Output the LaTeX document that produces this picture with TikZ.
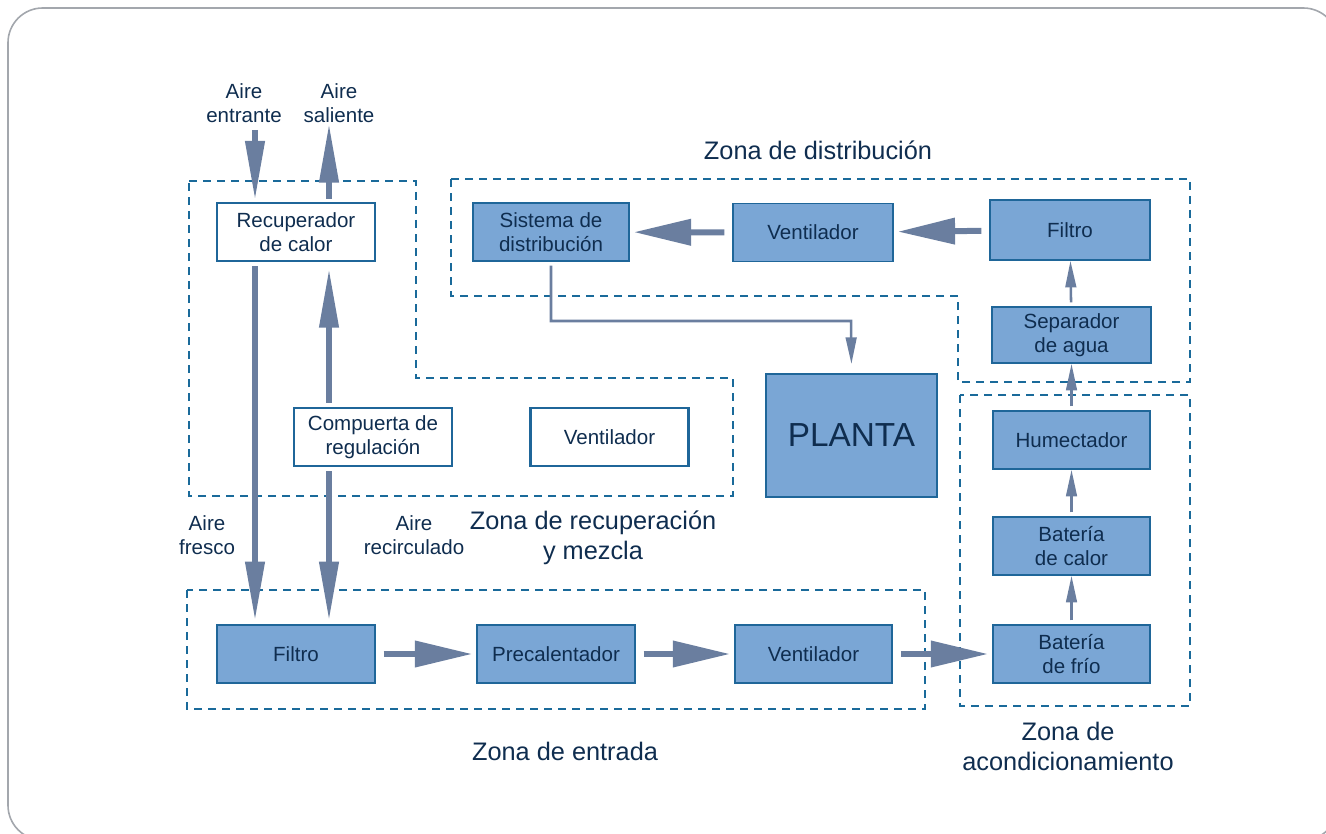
\documentclass[tikz,border=0pt]{standalone}
\usepackage{fontspec}
\setmainfont{Liberation Sans}
\usetikzlibrary{arrows.meta,positioning}
\definecolor{boxfill}{HTML}{7AA6D5}
\definecolor{boxline}{HTML}{1F6699}
\definecolor{zoneline}{HTML}{1A6A9A}
\definecolor{flow}{HTML}{6A7E9F}
\definecolor{ink}{HTML}{0F2D4F}
\definecolor{frame}{HTML}{A3A7AD}

\tikzset{
  lbl/.style={text=ink, align=center, font=\fontsize{15.4}{18.2}\selectfont},
  zonelbl/.style={text=ink, align=center, font=\fontsize{19}{22.5}\selectfont},
  box/.style={lbl, draw=boxline, line width=1.1pt, fill=boxfill, inner sep=0pt,
    minimum width=118.5pt, minimum height=43.5pt},
  wbox/.style={lbl, draw=boxline, line width=2.1pt, fill=white, inner sep=0pt,
    minimum width=118.5pt, minimum height=43.5pt},
  zone/.style={draw=zoneline, line width=1.9pt, dash pattern=on 6pt off 4.5pt},
  hbig/.style={draw=flow, line width=4.5pt, -{Triangle[length=43pt, width=19pt]},
    shorten <=6pt, shorten >=3pt},
  vbig/.style={draw=flow, line width=4pt, -{Triangle[length=44pt, width=14pt]}},
  thin/.style={draw=flow, line width=1.9pt, -{Triangle[length=20pt, width=8pt]}}
}

\begin{document}
\begin{tikzpicture}[x=0.75pt, y=-0.75pt]
    \useasboundingbox (0,0) rectangle (1326,834);
    % outer frame
    \draw[frame, line width=1.2pt, rounded corners=26pt] (8,8) rectangle (1338,840);

    % Zones
    \draw[zone] (189,181) -- (416,181) -- (416,378) -- (733,378) -- (733,496) -- (189,496) -- cycle;
    \draw[zone] (451,179) -- (1190,179) -- (1190,382) -- (958,382) -- (958,296) -- (451,296) -- cycle;
    \draw[zone] (960,395) rectangle (1190,706);
    \draw[zone] (187,590) rectangle (925,709);

    % Recuperation and mixing
    \node[wbox] (rec) at (296,232) {Recuperador\\de calor};
    \node[wbox] (comp) at (373,437) {Compuerta de\\regulación};
    \node[wbox, minimum width=119pt] (ventM) at (609.5,437) {Ventilador};

    % Distribution
    \node[box, minimum width=117pt] (sis) at (551,232) {Sistema de\\distribución};
    \node[box, minimum width=120pt] (ventD) at (813,232.5) {Ventilador};
    \node[box, minimum width=120pt, minimum height=45pt] (filD) at (1070,230) {Filtro};
    \node[box, minimum width=119pt, minimum height=42pt] (sep) at (1071.5,335) {Separador\\de agua};
    \node[box, minimum width=128pt, minimum height=92pt, font=\fontsize{25}{30}\selectfont] (planta) at (851.5,435.5) {PLANTA};

    % Conditioning
    \node[box, minimum width=118pt] (hum) at (1071.5,440) {Humectador};
    \node[box, minimum width=118pt] (batc) at (1071.5,546) {Batería\\de calor};
    \node[box, minimum width=118pt] (batf) at (1071.5,654) {Batería\\de frío};

    % Entrance
    \node[box] (filE) at (296,654) {Filtro};
    \node[box] (pre) at (556,654) {Precalentador};
    \node[box, minimum width=118pt] (ventE) at (813.5,654) {Ventilador};

    % Labels
    \node[lbl] (lEnt) at (244,103) {Aire\\entrante};
    \node[lbl] (lSal) at (339,103) {Aire\\saliente};
    \node[lbl] (lFre) at (207,535) {Aire\\fresco};
    \node[lbl] (lRec) at (414,535) {Aire\\recirculado};
    \node[zonelbl] (zRec) at (593,538) {Zona de recuperación\\y mezcla};
    \node[zonelbl] (zDis) at (818,150) {Zona de distribución};
    \node[zonelbl] (zEnt) at (565,751) {Zona de entrada};
    \node[zonelbl] (zAco) at (1068,746) {Zona de\\acondicionamiento};

    % Air in / out
    \coordinate (ae) at (255,130);
    \coordinate (as) at (329,124);
    \draw[vbig] (ae) -- ([yshift=1.5pt]rec.north -| ae);
    \draw[vbig] ([yshift=2pt]rec.north -| as) -- (as);
    \draw[vbig, shorten <=3pt, shorten >=3pt] (rec.south -| ae) -- (filE.north -| ae);
    \draw[vbig, shorten <=3pt, shorten >=5pt] (comp.north -| as) -- (rec.south -| as);
    \draw[vbig, shorten <=3pt, shorten >=3pt] (comp.south -| as) -- (filE.north -| as);

    % Main flow
    \draw[hbig] (filE) -- (pre);
    \draw[hbig] (pre) -- (ventE);
    \draw[hbig] (ventE) -- (batf);
    \draw[hbig] (filD) -- (ventD);
    \draw[hbig] (ventD) -- (sis);
    \draw[thin, shorten <=3pt] (batf) -- (batc);
    \draw[thin, shorten <=3pt] (batc) -- (hum);
    \draw[thin, shorten <=3pt] (hum) -- (sep);
    \draw[thin, shorten <=3pt] (sep) -- (filD);
    \draw[thin, shorten <=3pt, shorten >=7pt] (sis.south) |- (851,321) -- (planta.north);
\end{tikzpicture}
\end{document}
